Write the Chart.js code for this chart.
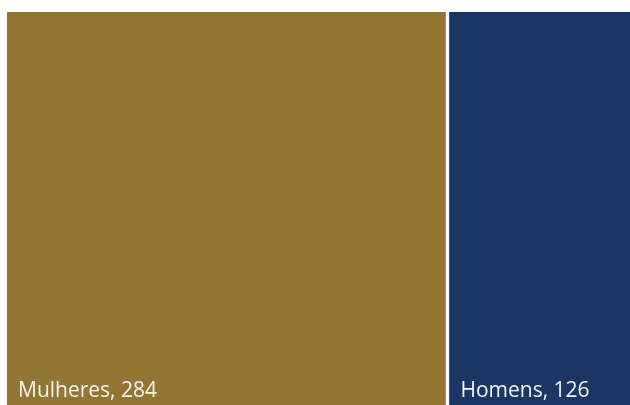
<!DOCTYPE html>
<html>
<head>
<meta charset="utf-8">
<script src="https://cdn.jsdelivr.net/npm/chart.js@4"></script>
<style>
  html, body { margin: 0; padding: 0; background: #fff; overflow: hidden; }
  #wrap { width: 630px; height: 405px; overflow: hidden; position: relative; }
  canvas { display: block; }
</style>
</head>
<body>
<div id="wrap"><canvas id="myChart" width="640" height="405"></canvas></div>
<script>
// Treemap blocks, laid out as one stacked horizontal bar
const groups = ['Mulheres', 'Homens'];
const counts = [284, 126];
const colors = ['#937631', '#1a3664'];

// Writes "name, value" in the bottom-left corner of each block
const blockLabels = {
    id: 'blockLabels',
    afterDatasetsDraw(chart) {
        const ctx = chart.ctx;
        ctx.save();
        ctx.fillStyle = '#f4f4f4';
        ctx.font = '21px "Open Sans", sans-serif';
        ctx.textBaseline = 'alphabetic';
        chart.data.datasets.forEach((ds, i) => {
            const bar = chart.getDatasetMeta(i).data[0];
            const left = Math.min(bar.base, bar.x) + (i > 0 ? 4 : 0);
            ctx.fillText(ds.label + ', ' + ds.data[0], left + 11, chart.chartArea.bottom - 8);
        });
        ctx.restore();
    }
};

const datasets = groups.map((name, i) => ({
    label: name,
    data: [counts[i]],
    backgroundColor: colors[i],
    borderColor: '#ffffff',
    borderWidth: i > 0 ? { left: 4, top: 0, right: 0, bottom: 0 } : 0,
    borderSkipped: false
}));

new Chart(document.getElementById('myChart'), {
    type: 'bar',
    data: { labels: ['Total'], datasets: datasets },
    options: {
        indexAxis: 'y',
        responsive: false,
        animation: false,
        layout: { padding: { left: 7, top: 12, right: 0, bottom: 0 } },
        datasets: { bar: { categoryPercentage: 1, barPercentage: 1 } },
        plugins: { legend: { display: false }, tooltip: { enabled: false } },
        scales: {
            x: { stacked: true, min: 0, max: 410, display: false },
            y: { stacked: true, display: false }
        }
    },
    plugins: [blockLabels]
});
</script>
</body>
</html>
